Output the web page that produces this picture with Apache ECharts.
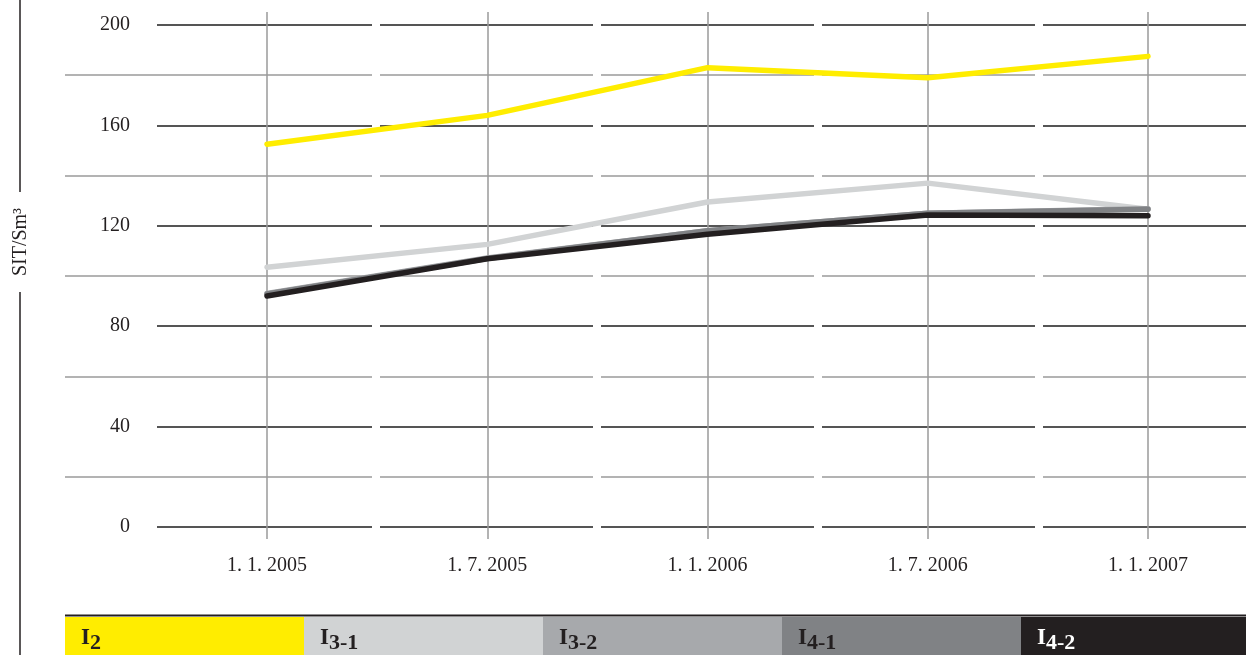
<!DOCTYPE html>
<html>
<head>
<meta charset="utf-8">
<script src="https://cdn.jsdelivr.net/npm/echarts@6/dist/echarts.min.js"></script>
<style>
html,body{margin:0;padding:0;background:#fff;}
#chart{width:1246px;height:655px;}
</style>
</head>
<body>
<div id="chart"></div>
<script>
const categories = ['1. 1. 2005', '1. 7. 2005', '1. 1. 2006', '1. 7. 2006', '1. 1. 2007'];
const seriesNames = ['I2', 'I3-1', 'I3-2', 'I4-1', 'I4-2'];
const legendSubs = ['2', '3-1', '3-2', '4-1', '4-2'];
const seriesColors = ['#ffed00', '#d1d3d4', '#a7a9ac', '#808285', '#231f20'];
const legendTextColors = ['#231f20', '#231f20', '#231f20', '#231f20', '#ffffff'];
const valuesI2  = [152.5, 164.0, 183.0, 179.0, 187.5];
const valuesI31 = [103.5, 112.6, 129.5, 137.0, 126.6];
const valuesI32 = [93.0, 107.2, 118.0, 125.0, 126.8];
const valuesI41 = [92.8, 107.0, 118.0, 125.0, 126.6];
const valuesI42 = [92.0, 106.9, 116.6, 124.3, 124.0];
const yMin = 0, yMax = 200, yStep = 20, yLabelStep = 40;
const yName = 'SIT/Sm³';

const seriesValues = [valuesI2, valuesI31, valuesI32, valuesI41, valuesI42];
const FONT = 'Liberation Serif';
const INK = '#231f20';

const chart = echarts.init(document.getElementById('chart'), null, {renderer: 'canvas'});

const graphics = [];
graphics.push({type: 'line', shape: {x1: 20, y1: 0, x2: 20, y2: 192}, style: {stroke: INK, lineWidth: 1.5}});
graphics.push({type: 'line', shape: {x1: 20, y1: 292, x2: 20, y2: 655}, style: {stroke: INK, lineWidth: 1.5}});
graphics.push({type: 'text', x: 21, y: 242, rotation: Math.PI / 2,
  style: {text: yName, font: '20px "' + FONT + '"', fill: INK, align: 'center', verticalAlign: 'middle'}});
const legLeft = 65, legW = 239, legTop = 617;
graphics.push({type: 'line', shape: {x1: legLeft, y1: legTop - 1.5, x2: 1246, y2: legTop - 1.5}, style: {stroke: INK, lineWidth: 2}});
seriesNames.forEach((n, i) => {
  const bx = legLeft + i * legW;
  const w = Math.min(legW, 1246 - bx);
  graphics.push({type: 'rect', shape: {x: bx, y: legTop, width: w + (i === 4 ? 0 : 0.5), height: 40}, style: {fill: seriesColors[i]}});
  graphics.push({type: 'text', x: bx + 16, y: 638,
    style: {text: 'I', font: 'bold 23px "' + FONT + '"', fill: legendTextColors[i], align: 'left', verticalAlign: 'middle'}});
  graphics.push({type: 'text', x: bx + 25, y: 643,
    style: {text: legendSubs[i], font: 'bold 22px "' + FONT + '"', fill: legendTextColors[i], align: 'left', verticalAlign: 'middle'}});
});

const majorDash = [215, 8, 213, 8, 213, 8, 213, 8, 400];
const minorDash = [307, 8, 213, 8, 213, 8, 213, 8, 400];

const option = {
  animation: false,
  backgroundColor: '#ffffff',
  textStyle: {fontFamily: FONT},
  grid: [
    {left: 267, right: 98, top: 25, bottom: 128, outerBoundsMode: 'none', containLabel: false},
    {left: 267, right: 98, top: 12, bottom: 116, outerBoundsMode: 'none', containLabel: false},
    {left: 157, right: -12, top: 25, bottom: 128, outerBoundsMode: 'none', containLabel: false},
    {left: 65, right: -12, top: 25, bottom: 128, outerBoundsMode: 'none', containLabel: false}
  ],
  xAxis: [
    {gridIndex: 0, type: 'category', data: categories, boundaryGap: false, show: false},
    {gridIndex: 1, type: 'category', data: categories, boundaryGap: false,
      axisLine: {show: false}, axisTick: {show: false},
      axisLabel: {show: true, interval: 0, margin: 17, color: INK, fontSize: 20, fontFamily: FONT},
      splitLine: {show: true, interval: 0, lineStyle: {color: '#9a9a9a', width: 1.5}}},
    {gridIndex: 2, type: 'value', show: false},
    {gridIndex: 3, type: 'value', show: false}
  ],
  yAxis: [
    {gridIndex: 0, type: 'value', min: yMin, max: yMax, interval: yStep, show: false},
    {gridIndex: 1, type: 'value', show: false},
    {gridIndex: 2, type: 'value', min: yMin, max: yMax, interval: yStep,
      axisLine: {show: false}, axisTick: {show: false},
      axisLabel: {show: true, margin: 27, color: INK, fontSize: 20, fontFamily: FONT,
        formatter: v => (v % yLabelStep === 0 ? String(v) : '')},
      splitLine: {show: true, lineStyle: {color: ['#1e1e1e', 'rgba(0,0,0,0)'], width: 1.5, type: majorDash}}},
    {gridIndex: 3, type: 'value', min: yMin, max: yMax, interval: yStep,
      axisLine: {show: false}, axisTick: {show: false}, axisLabel: {show: false},
      splitLine: {show: true, lineStyle: {color: ['rgba(0,0,0,0)', '#9a9a9a'], width: 1.5, type: minorDash}}}
  ],
  series: seriesNames.map((n, i) => ({
    name: n, type: 'line', xAxisIndex: 0, yAxisIndex: 0,
    data: seriesValues[i], symbol: 'none', smooth: false,
    lineStyle: {color: seriesColors[i], width: 5.5, cap: 'round', join: 'round'},
    itemStyle: {color: seriesColors[i]},
    z: 10 + i
  })),
  graphic: graphics
};
chart.setOption(option);
</script>
</body>
</html>
